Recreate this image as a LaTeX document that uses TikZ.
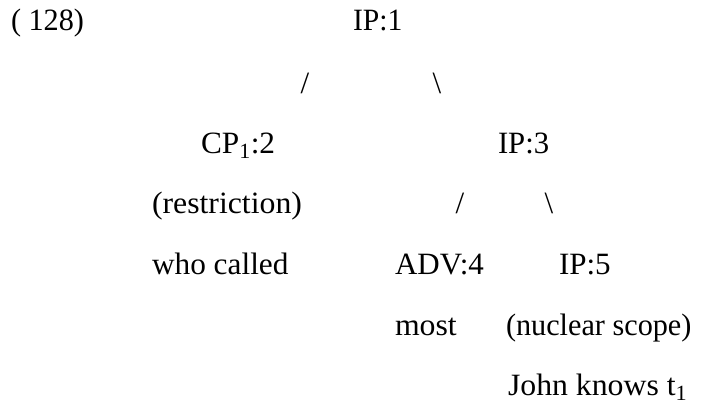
\documentclass[tikz,border=0pt]{standalone}
\usepackage{fontspec}
\usepackage{graphicx}
\setmainfont{Liberation Serif}
\newcommand{\hsc}[2]{\scalebox{#1}[1]{#2}}
\begin{document}
\begin{tikzpicture}[x=1pt,y=-1pt,
  lbl/.style={inner sep=0pt,outer sep=0pt,anchor=base west,font=\fontsize{31}{37}\selectfont},
  brc/.style={inner sep=0pt,outer sep=0pt,anchor=base,font=\fontsize{31}{37}\selectfont}]
\useasboundingbox (0,0) rectangle (701,404);
\node[lbl] (ex) at (11,31) {\hsc{0.975}{( 128)}};
\node[lbl] (ip1) at (353,31) {\hsc{0.955}{IP:1}};
\node[brc] (s1) at (305,93) {/};
\node[brc] (s2) at (437,93) {\textbackslash};
\node[lbl] (cp1) at (201,153) {\hsc{1.01}{CP\textsubscript{1}:2}};
\node[lbl] (ip3) at (498,153) {\hsc{0.99}{IP:3}};
\node[lbl] (restr) at (152,213) {\hsc{1.025}{(restriction)}};
\node[brc] (s3) at (460,213) {/};
\node[brc] (s4) at (549,213) {\textbackslash};
\node[lbl] (who) at (152,274) {\hsc{1.01}{who called}};
\node[lbl] (adv4) at (395,274) {ADV:4};
\node[lbl] (ip5) at (559,274) {IP:5};
\node[lbl] (most) at (395,335) {\hsc{1.025}{most}};
\node[lbl] (nuc) at (506,335) {\hsc{0.975}{(nuclear scope)}};
\node[lbl] (john) at (508,395) {\hsc{1.025}{John knows t\textsubscript{1}}};
\end{tikzpicture}
\end{document}
